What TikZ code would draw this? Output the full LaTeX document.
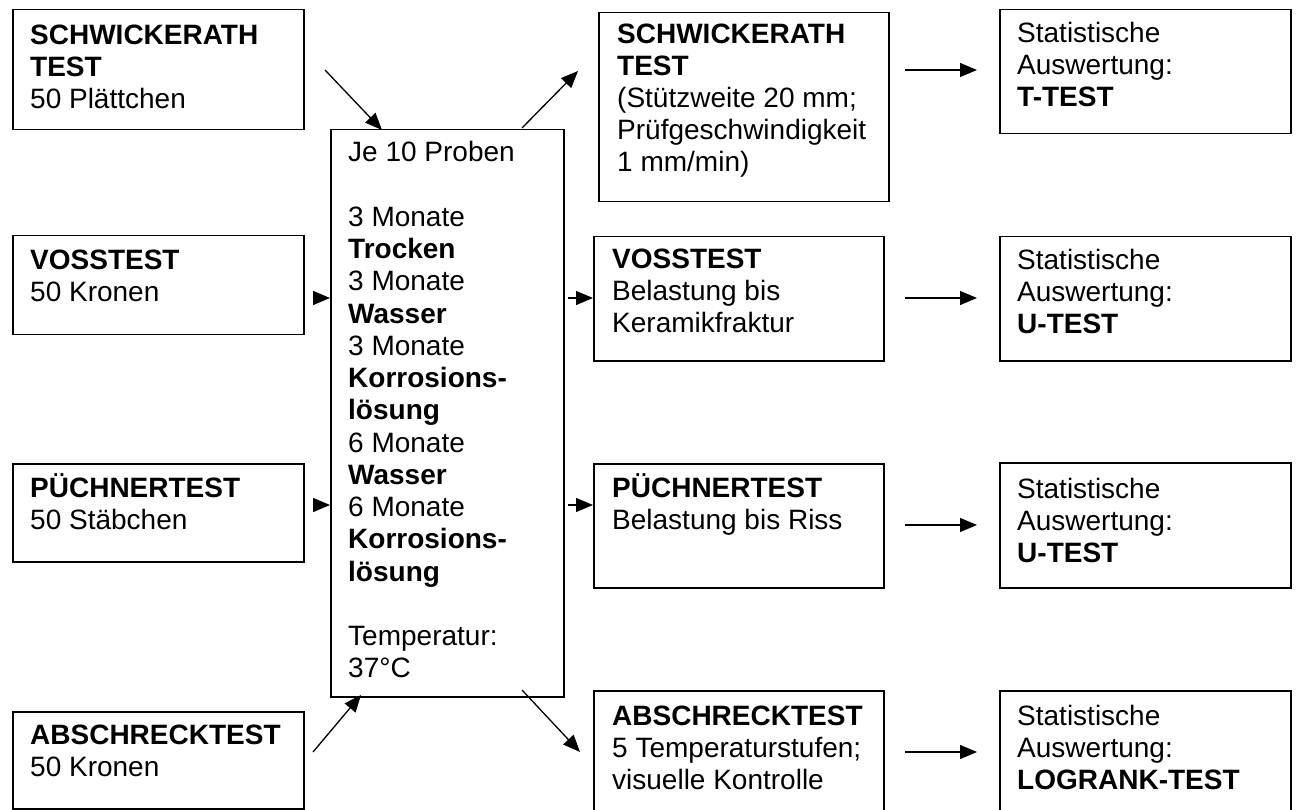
\documentclass[tikz,border=0pt]{standalone}
\usepackage{fontspec}
\setmainfont{Liberation Sans}
\usetikzlibrary{arrows.meta}
\begin{document}
\begin{tikzpicture}[x=1pt,y=-1pt,
  box/.style={draw, line width=1.5pt, inner sep=0pt, anchor=north west, fill=none},
  txt/.style={inner sep=0pt, anchor=base west, font=\fontsize{28}{32}\selectfont},
  arr/.style={-{Triangle[length=17pt,width=14pt]}, line width=1.3pt}]
\useasboundingbox (0,0) rectangle (1296,810);
\fill[white] (0,0) rectangle (1296,810);
\clip (0,0) rectangle (1296,810);
\newcommand{\tb}[2]{\begin{minipage}[t]{#1pt}\raggedright #2\end{minipage}}
% left boxes
\node[box, minimum width=291pt, minimum height=120pt] (L1) at (12,9) {};
\node[box, minimum width=291pt, minimum height=99pt] (L2) at (12,235) {};
\node[box, minimum width=291pt, minimum height=98pt] (L3) at (12,463) {};
\node[box, minimum width=291pt, minimum height=97pt] (L4) at (12,711) {};
\node[txt] (L1t) at (30,45) {\tb{270}{\textbf{SCHWICKERATH}\\\textbf{TEST}\\50 Plättchen}};
\node[txt] (L2t) at (30,270) {\tb{270}{\textbf{VOSSTEST}\\50 Kronen}};
\node[txt] (L3t) at (30,497) {\tb{270}{\textbf{PÜCHNERTEST}\\50 Stäbchen}};
\node[txt] (L4t) at (30,744) {\tb{270}{\textbf{ABSCHRECKTEST}\\50 Kronen}};
% middle box
\node[box, minimum width=233pt, minimum height=567pt] (M) at (330,129) {};
\node[txt, font=\fontsize{28}{32.25}\selectfont] (Mt) at (348,162) {\tb{210}{Je 10 Proben\\\mbox{}\\3 Monate\\\textbf{Trocken}\\3 Monate\\\textbf{Wasser}\\3 Monate\\\textbf{Korrosions-}\\\textbf{lösung}\\6 Monate\\\textbf{Wasser}\\6 Monate\\\textbf{Korrosions-}\\\textbf{lösung}\\\mbox{}\\Temperatur:\\37°C}};
% right test boxes
\node[box, minimum width=290pt, minimum height=189pt] (R1) at (598,12) {};
\node[box, minimum width=290pt, minimum height=124pt] (R2) at (593,236) {};
\node[box, minimum width=290pt, minimum height=124pt] (R3) at (593,463) {};
\node[box, minimum width=290pt, minimum height=130pt] (R4) at (593,690) {};
\node[txt] (R1t) at (617,44) {\tb{270}{\textbf{SCHWICKERATH}\\\textbf{TEST}\\(Stützweite 20 mm;\\Prüfgeschwindigkeit\\1 mm/min)}};
\node[txt] (R2t) at (612,269) {\tb{270}{\textbf{VOSSTEST}\\Belastung bis\\Keramikfraktur}};
\node[txt] (R3t) at (612,497) {\tb{270}{\textbf{PÜCHNERTEST}\\Belastung bis Riss}};
\node[txt] (R4t) at (612,725) {\tb{270}{\textbf{ABSCHRECKTEST}\\5 Temperaturstufen;\\visuelle Kontrolle}};
% statistics boxes
\node[box, minimum width=291pt, minimum height=124pt] (S1) at (999,9) {};
\node[box, minimum width=291pt, minimum height=124pt] (S2) at (999,236) {};
\node[box, minimum width=291pt, minimum height=125pt] (S3) at (999,462) {};
\node[box, minimum width=291pt, minimum height=130pt] (S4) at (999,690) {};
\node[txt] (S1t) at (1017,43) {\tb{270}{Statistische\\Auswertung:\\\textbf{T-TEST}}};
\node[txt] (S2t) at (1017,270) {\tb{270}{Statistische\\Auswertung:\\\textbf{U-TEST}}};
\node[txt] (S3t) at (1017,498) {\tb{270}{Statistische\\Auswertung:\\\textbf{U-TEST}}};
\node[txt] (S4t) at (1017,725) {\tb{270}{Statistische\\Auswertung:\\\textbf{LOGRANK-TEST}}};
% arrow end points
\coordinate (a1s) at (325,70);  \coordinate (a1e) at (382,130);
\coordinate (a2s) at (313,298); \coordinate (a2e) at (330,298);
\coordinate (a3s) at (313,505); \coordinate (a3e) at (330,505);
\coordinate (a4s) at (313,752); \coordinate (a4e) at (361,695);
\coordinate (b1s) at (522,128); \coordinate (b1e) at (578,71);
\coordinate (b2s) at (568,298); \coordinate (b2e) at (593,298);
\coordinate (b3s) at (568,505); \coordinate (b3e) at (593,505);
\coordinate (b4s) at (522,690); \coordinate (b4e) at (580,752);
\coordinate (c1s) at (905,70);  \coordinate (c1e) at (977,70);
\coordinate (c2s) at (905,298); \coordinate (c2e) at (977,298);
\coordinate (c3s) at (905,525); \coordinate (c3e) at (977,525);
\coordinate (c4s) at (905,752); \coordinate (c4e) at (977,752);
\foreach \p in {a1,a2,a3,a4,b1,b2,b3,b4,c1,c2,c3,c4}
  \draw[arr] (\p s) -- (\p e);
\end{tikzpicture}
\end{document}
